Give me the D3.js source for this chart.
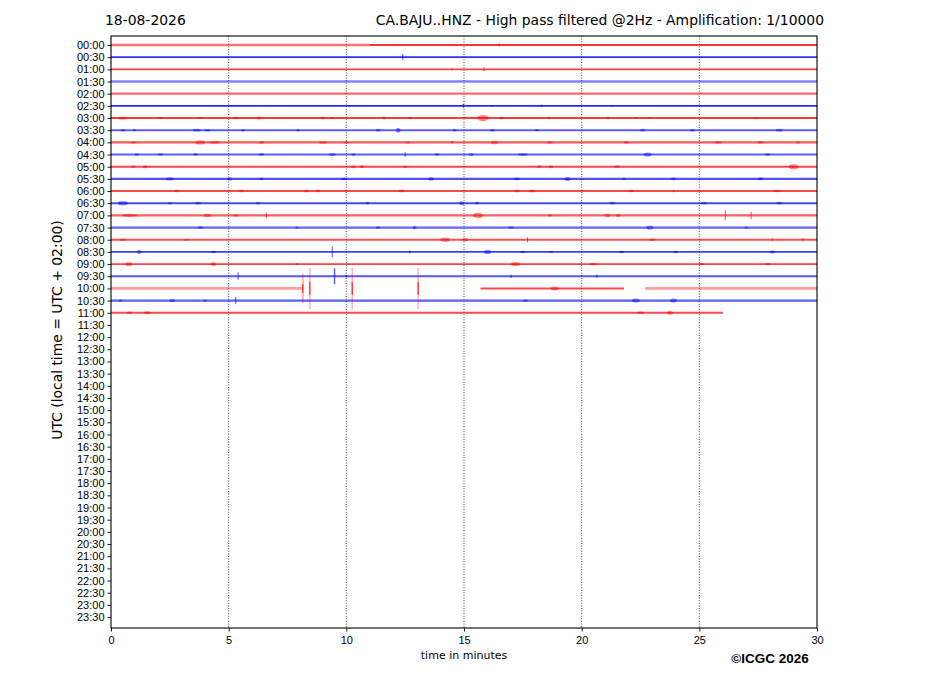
<!DOCTYPE html>
<html>
<head>
<meta charset="utf-8">
<script src="https://cdn.jsdelivr.net/npm/d3@7"></script>
<style>
  body { margin: 0; background: #fff; }
  svg { font-family: "DejaVu Sans", sans-serif; }
  .tick text { font-size: 11px; fill: #000; }
</style>
</head>
<body>
<script>
// hour labels of the 48 half-hour rows
const rowLabels = [
  '00:00','00:30','01:00','01:30','02:00','02:30','03:00','03:30',
  '04:00','04:30','05:00','05:30','06:00','06:30','07:00','07:30',
  '08:00','08:30','09:00','09:30','10:00','10:30','11:00','11:30',
  '12:00','12:30','13:00','13:30','14:00','14:30','15:00','15:30',
  '16:00','16:30','17:00','17:30','18:00','18:30','19:00','19:30',
  '20:00','20:30','21:00','21:30','22:00','22:30','23:00','23:30'
];
const minuteTicks = [0, 5, 10, 15, 20, 25, 30];
const traceColors = ['#ff0000', '#0000ff'];

// recorded segments per row: [start min, end min, noise level in counts]
const traceSegments = [
  [[0, 11.0, 1100], [11.0, 30, 650]],
  [[0, 30, 600]],
  [[0, 30, 750]],
  [[0, 30, 1200]],
  [[0, 30, 1000]],
  [[0, 30, 550]],
  [[0, 30, 700]],
  [[0, 30, 950]],
  [[0, 30, 900]],
  [[0, 30, 950]],
  [[0, 30, 750]],
  [[0, 30, 850]],
  [[0, 30, 800]],
  [[0, 30, 800]],
  [[0, 30, 950]],
  [[0, 30, 1000]],
  [[0, 30, 850]],
  [[0, 30, 700]],
  [[0, 30, 750]],
  [[0, 30, 900]],
  [[0, 8.1, 1400], [15.7, 21.8, 800], [22.7, 30, 1400]],
  [[0, 30, 950]],
  [[0, 26.0, 800]]
];

// bursts per row: [minute, peak amplitude in counts, duration in seconds]
const traceEvents = [
  [[16.5,1200,4],[12.1,700,6],[14.5,700,6]],
  [[12.4,2600,3]],
  [[15.85,1500,4],[14.5,800,4]],
  [],
  [],
  [[14.97,1500,4],[18.3,1400,6],[16.2,900,8],[21.3,900,6]],
  [[0.5,1800,25],[2.1,1200,15],[3.8,1100,12],[5.3,1300,15],[6.3,1800,15],[9.0,1500,15],[9.4,1200,10],[11.6,1500,12],[12.7,1300,12],[15.8,3400,30],[16.6,1300,15],[18.6,1200,12],[21.1,1300,12],[22.3,1100,10],[22.9,1100,10],[27.4,1200,20]],
  [[0.5,1400,12],[1.0,1200,10],[3.65,1500,20],[4.1,1400,15],[5.6,1300,10],[7.95,1500,8],[11.35,1500,12],[12.2,2800,12],[14.6,1500,10],[16.2,1300,12],[18.1,1200,10],[22.6,1500,15],[24.7,1300,12],[28.4,1500,18]],
  [[0.95,1300,12],[3.8,2400,25],[4.4,1500,25],[6.4,1400,15],[9.0,1500,20],[10.0,1300,12],[12.6,1300,12],[14.5,1200,10],[16.3,2000,20],[18.65,1500,15],[21.9,1400,12],[25.8,1500,18],[27.6,1500,15],[29.2,1300,10]],
  [[1.1,1400,12],[2.1,1300,15],[3.6,1300,12],[6.4,1300,15],[9.4,1500,18],[10.3,1300,12],[12.5,1800,3],[13.85,1300,12],[15.3,1500,15],[17.5,1500,25],[22.8,2200,20],[27.9,1500,15]],
  [[0.95,1500,12],[1.45,1700,12],[10.3,1700,12],[10.65,1500,10],[12.5,1300,10],[18.2,1500,12],[18.7,1700,12],[21.5,1500,15],[29.0,2800,25]],
  [[2.5,1800,20],[5.05,1800,12],[6.4,1400,10],[9.9,1300,15],[13.6,1800,15],[17.25,1500,15],[19.4,2200,15],[21.8,1300,10],[23.9,1400,12],[27.6,1400,15]],
  [[2.8,1600,12],[5.55,1600,12],[8.3,1500,15],[8.8,1600,12],[12.35,1600,15],[17.25,1600,15],[17.9,1700,15],[22.1,1400,15],[23.9,1700,5],[28.3,1300,20]],
  [[0.5,2400,25],[2.5,1300,12],[3.7,1500,15],[6.25,1400,12],[10.9,1300,10],[14.9,2300,12],[15.55,1600,10],[21.3,1500,15],[25.2,1300,15],[28.4,1300,15]],
  [[0.8,1800,40],[4.1,1800,20],[5.3,1600,12],[6.6,2200,2],[15.6,3000,25],[18.65,1600,12],[21.1,2000,15],[21.55,1700,12],[26.1,4000,2],[27.2,3000,2]],
  [[3.8,1400,15],[7.9,1300,8],[11.35,1400,12],[12.9,2000,10],[17.0,1400,15],[22.9,2400,18],[27.0,1300,10]],
  [[0.5,1300,15],[3.2,1200,15],[14.2,2400,25],[15.05,1800,15],[17.7,2000,3],[23.0,1300,15],[28.1,1300,3],[29.4,1400,3]],
  [[1.2,2200,12],[4.35,1400,15],[9.4,4500,3],[12.7,1200,3],[16.0,2400,18],[17.5,1400,15],[18.7,1200,10],[21.7,1300,15],[24.0,1400,12],[28.1,1600,15]],
  [[0.75,2200,18],[4.35,2200,15],[7.9,1200,8],[17.2,2200,25],[20.5,1400,20],[25.1,1400,15],[27.9,1400,15]],
  [[5.4,3200,2],[9.5,6500,4],[10.0,1400,6],[17.0,1300,3],[20.65,1400,3]],
  [[8.15,12000,6],[8.45,17000,5],[10.25,17000,5],[13.05,17000,5],[18.85,2200,20]],
  [[0.4,1300,10],[2.6,1800,15],[4.0,1300,10],[5.3,2800,2],[17.6,1300,15],[22.3,2200,20],[23.9,2200,18]],
  [[0.8,1300,15],[1.55,1700,18],[22.5,1300,20],[23.75,2200,15]]
];

const countsPerRow = 10000; // amplification 1/10000

const width = 927;
const height = 696;
const plot = {left: 111, right: 817, top: 36, bottom: 628};

const svg = d3.select('body').append('svg')
  .attr('width', width)
  .attr('height', height);

const x = d3.scaleLinear().domain([0, 30]).range([plot.left, plot.right]);
const y = d3.scaleLinear().domain([-0.74, 47.9]).range([plot.top, plot.bottom]);
const rowStep = y(1) - y(0);
const amp = d3.scaleLinear().domain([0, countsPerRow]).range([0, rowStep]);
const durPx = s => x(s / 60) - x(0);

// grid
svg.append('g').selectAll('line')
  .data(minuteTicks.slice(1, -1))
  .enter()
  .append('line')
  .attr('x1', d => x(d))
  .attr('x2', d => x(d))
  .attr('y1', plot.top)
  .attr('y2', plot.bottom)
  .style('stroke', '#000')
  .style('stroke-width', 0.7)
  .style('stroke-dasharray', '1,1.6');

// traces
const traces = svg.append('g');
traceSegments.forEach((segs, i) => {
  const color = traceColors[i % 2];
  const base = y(i);
  segs.forEach(s => {
    const n = amp(s[2]);
    traces.append('line')
      .attr('x1', x(s[0]))
      .attr('x2', x(s[1]))
      .attr('y1', base)
      .attr('y2', base)
      .style('stroke', color)
      .style('stroke-width', 1 + n)
      .style('stroke-opacity', Math.max(0.3, Math.min(0.9, 1.15 - 0.45 * n)));
  });

  const blobs = traceEvents[i].filter(d => d[2] > 4 && d[1] < 5000);
  const spikes = traceEvents[i].filter(d => !(d[2] > 4 && d[1] < 5000));

  traces.selectAll(null)
    .data(blobs)
    .enter()
    .append('ellipse')
    .attr('cx', d => x(d[0]))
    .attr('cy', base)
    .attr('rx', d => durPx(d[2]) / 2)
    .attr('ry', d => amp(d[1]) * 0.75)
    .style('fill', color)
    .style('fill-opacity', 0.45);

  // short spikes: a light envelope and a darker core
  traces.selectAll(null)
    .data(spikes)
    .enter()
    .append('line')
    .attr('x1', d => x(d[0]))
    .attr('x2', d => x(d[0]))
    .attr('y1', d => base - amp(d[1]))
    .attr('y2', d => base + amp(d[1]))
    .style('stroke', color)
    .style('stroke-width', d => Math.max(1, durPx(d[2]) * 0.8))
    .style('stroke-opacity', d => d[1] > 8000 ? 0.3 : 0.7);

  traces.selectAll(null)
    .data(spikes.filter(d => d[1] > 8000))
    .enter()
    .append('line')
    .attr('x1', d => x(d[0]))
    .attr('x2', d => x(d[0]))
    .attr('y1', d => base - amp(d[1]) * 0.3)
    .attr('y2', d => base + amp(d[1]) * 0.3)
    .style('stroke', color)
    .style('stroke-width', 1);
});

// axes
const yAxis = d3.axisLeft(y)
  .tickValues(d3.range(rowLabels.length))
  .tickFormat(i => rowLabels[i])
  .tickSize(3.5)
  .tickPadding(3);
const gy = svg.append('g')
  .attr('transform', `translate(${plot.left},0)`)
  .call(yAxis);
gy.select('.domain').remove();

const xAxis = d3.axisBottom(x)
  .tickValues(minuteTicks)
  .tickSize(3.5)
  .tickPadding(4.7);
const gx = svg.append('g')
  .attr('transform', `translate(0,${plot.bottom})`)
  .call(xAxis);
gx.select('.domain').remove();

svg.selectAll('.tick line').style('stroke', '#000').style('stroke-width', 0.9);

svg.append('rect')
  .attr('x', plot.left)
  .attr('y', plot.top)
  .attr('width', plot.right - plot.left)
  .attr('height', plot.bottom - plot.top)
  .style('fill', 'none')
  .style('stroke', '#000')
  .style('stroke-width', 1.1);

// texts
svg.append('text')
  .text('18-08-2026')
  .attr('x', 105)
  .attr('y', 25)
  .style('font-size', '13.9px');

svg.append('text')
  .text('CA.BAJU..HNZ - High pass filtered @2Hz - Amplification: 1/10000')
  .attr('x', 824)
  .attr('y', 25)
  .attr('text-anchor', 'end')
  .style('font-size', '13.9px');

svg.append('text')
  .text('UTC (local time = UTC + 02:00)')
  .attr('transform', `translate(62, ${(plot.top + plot.bottom) / 2 - 2}) rotate(-90)`)
  .attr('text-anchor', 'middle')
  .style('font-size', '13.9px');

svg.append('text')
  .text('time in minutes')
  .attr('x', (plot.left + plot.right) / 2)
  .attr('y', 659)
  .attr('text-anchor', 'middle')
  .style('font-size', '11px');

svg.append('text')
  .text('©ICGC 2026')
  .attr('x', 770)
  .attr('y', 663)
  .attr('text-anchor', 'middle')
  .style('font-family', '"Liberation Sans", Arial, sans-serif')
  .style('font-weight', 'bold')
  .style('font-size', '13.5px');
</script>
</body>
</html>
